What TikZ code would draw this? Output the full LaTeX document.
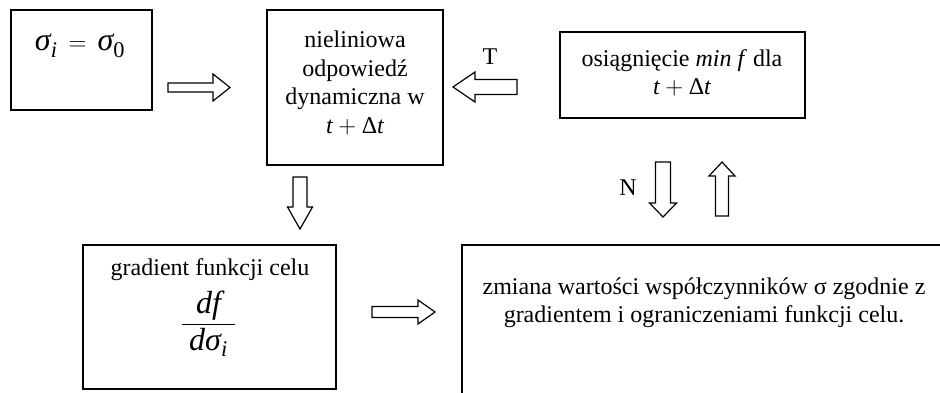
\documentclass[tikz,border=0pt]{standalone}
\usepackage{amsmath}
\usepackage{fontspec}
\setmainfont{Liberation Serif}
\newcommand\tmi[1]{\text{\itshape #1}}
\newcommand\blockarr[7]{%
  \begin{scope}[shift={(#1,#2)},rotate=#3]
    \draw[barrow] (-#4/2,-#6) -- (#4/2-#5,-#6) -- (#4/2-#5,-#7) -- (#4/2,0) -- (#4/2-#5,#7) -- (#4/2-#5,#6) -- (-#4/2,#6) -- cycle;
  \end{scope}}
\tikzset{
  box/.style={draw,line width=1.7pt,inner sep=0pt},
  barrow/.style={draw,line width=1.2pt,line join=miter,fill=white},
  txt/.style={inner sep=0pt,align=center,font=\fontsize{24}{28.5}\selectfont},
  big/.style={inner sep=0pt,font=\fontsize{32}{36}\selectfont},
}
\begin{document}
\begin{tikzpicture}[x=1pt,y=1pt]
\useasboundingbox (0,0) rectangle (940,392);
\fill[white] (0,0) rectangle (940,392);
\clip (0,0) rectangle (940,392);
% boxes
\node[box,minimum width=141pt,minimum height=100pt] (b1) at (81.5,332) {};
\node[box,minimum width=176pt,minimum height=155pt] (b2) at (355,304.5) {};
\node[box,minimum width=245pt,minimum height=86pt] (b3) at (682.5,317) {};
\node[box,minimum width=253pt,minimum height=144pt] (b4) at (209.5,75) {};
\draw[box] (462,-20) rectangle (980,147);
\coordinate (b5) at (462,147);
% texts
\node[big] (t1) at (80,346) {$\tmi{σ}_{\tmi{i}} \,=\, \tmi{σ}_{\text{0}}$};
\node[txt] (t2) at (355,309) {nieliniowa\\odpowiedź\\dynamiczna w\\$\tmi{t}+\text{Δ}\tmi{t}$};
\node[txt] (t3) at (682,319) {osiągnięcie \textit{min f} dla\\$\tmi{t}+\text{Δ}\tmi{t}$};
\node[txt] (t4) at (210,122) {gradient funkcji celu};
\node[big] (t4b) at (208.5,68) {$\dfrac{\;\tmi{df}\;}{\;\tmi{d}\tmi{σ}_{\tmi{i}}\;}$};
\node[txt] (t5) at (704,89.5) {zmiana wartości współczynników σ zgodnie z\\gradientem i ograniczeniami funkcji celu.};
\node[txt] (lT) at (490,335) {T};
\node[txt] (lN) at (628,204) {N};
% block arrows
\blockarr{199}{304.5}{0}{62}{17}{4.5}{13.5}
\blockarr{485}{305}{180}{64}{22}{7.5}{15}
\blockarr{300}{189}{-90}{52}{22}{7}{12.5}
\blockarr{403.5}{80}{0}{63}{17}{5.5}{12}
\blockarr{663}{202.5}{-90}{55}{14}{7.5}{13.5}
\blockarr{722}{203}{90}{54}{14}{6.5}{13}
\end{tikzpicture}
\end{document}
